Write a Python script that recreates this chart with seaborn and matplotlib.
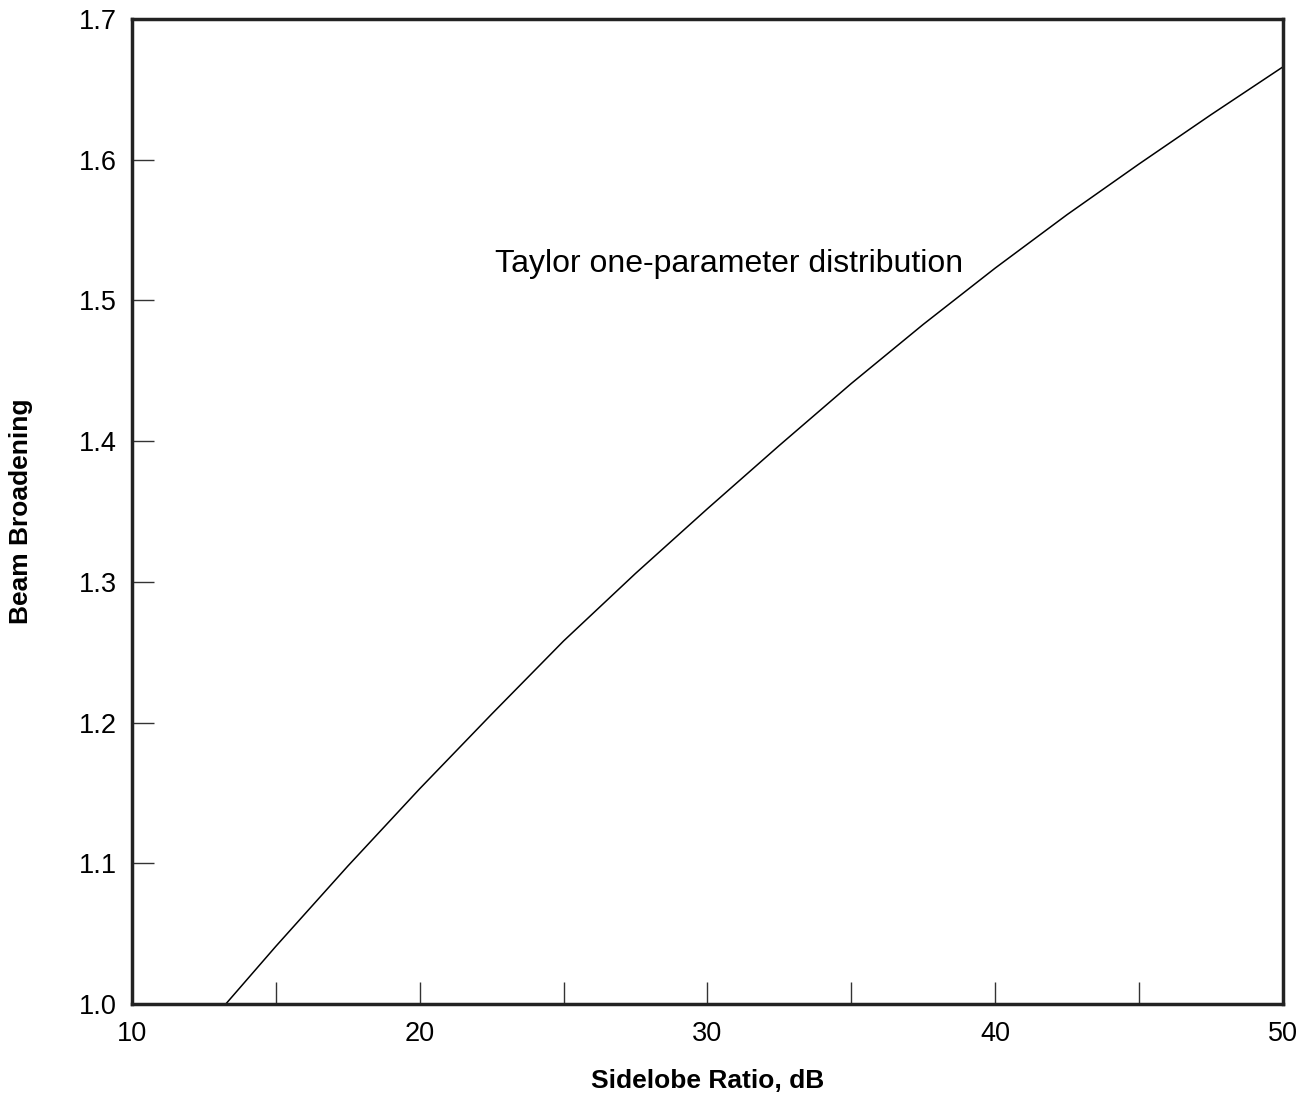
import matplotlib
matplotlib.use("Agg")
import matplotlib.pyplot as plt
import seaborn as sns
import pandas as pd

sidelobe_db = [13.26, 15.0, 17.5, 20.0, 22.5, 25.0, 27.5, 30.0, 32.5, 35.0, 37.5, 40.0, 42.5, 45.0, 47.5, 50.0]
broadening = [1.000, 1.041, 1.098, 1.153, 1.206, 1.258, 1.306, 1.352, 1.397, 1.441, 1.483, 1.523, 1.561, 1.597, 1.632, 1.666]
x_ticks = [10, 15, 20, 25, 30, 35, 40, 45, 50]
x_ticklabels = ["10", "", "20", "", "30", "", "40", "", "50"]
y_ticks = [1.0, 1.1, 1.2, 1.3, 1.4, 1.5, 1.6, 1.7]
y_ticklabels = ["1.0", "1.1", "1.2", "1.3", "1.4", "1.5", "1.6", "1.7"]
annotation = "Taylor one-parameter distribution"

sns.set_theme(style="white")
plt.rcParams['font.family'] = ['Liberation Sans', 'DejaVu Sans']
plt.rcParams['text.color'] = 'black'
plt.rcParams['axes.labelcolor'] = 'black'

df = pd.DataFrame({"x": sidelobe_db, "y": broadening})

fig = plt.figure(figsize=(13.09, 10.99), dpi=100)
ax = fig.add_axes([0.1008, 0.0864, 0.9801 - 0.1008, 0.9827 - 0.0864])
sns.lineplot(data=df, x="x", y="y", ax=ax, color="black", linewidth=1.1)

ax.set_xlim(10, 50)
ax.set_ylim(1.0, 1.7)
ax.set_xticks(x_ticks)
ax.set_xticklabels(x_ticklabels)
ax.set_yticks(y_ticks)
ax.set_yticklabels(y_ticklabels)
ax.tick_params(axis="both", direction="in", length=16, width=1, color="#333333",
               labelsize=19.5, labelcolor="black", bottom=True, left=True)
ax.tick_params(axis="x", pad=12)
ax.tick_params(axis="y", pad=11)
for sp in ax.spines.values():
    sp.set_visible(True)
    sp.set_color("#222222")
    sp.set_linewidth(2.5)

ax.set_xlabel("Sidelobe Ratio, dB", fontsize=19, fontweight="bold", labelpad=16, color="black")
ax.set_ylabel("Beam Broadening", fontsize=19, fontweight="bold", labelpad=33, color="black")
ax.text(22.6, 1.526, annotation, fontsize=23, va="center", ha="left", color="black")

fig.savefig("out.png", dpi=100)
